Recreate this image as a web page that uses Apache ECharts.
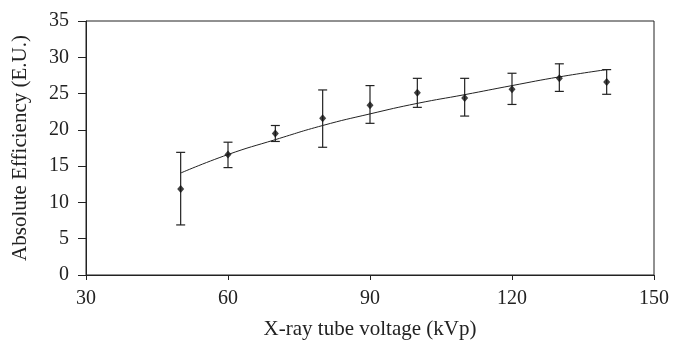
<!DOCTYPE html>
<html>
<head>
<meta charset="utf-8">
<script src="https://cdn.jsdelivr.net/npm/echarts@6/dist/echarts.min.js"></script>
<style>
html, body { margin: 0; padding: 0; background: #fff; }
#main { width: 673px; height: 340px; }
</style>
</head>
<body>
<div id="main"></div>
<script>
// measured points with error bars
var voltages = [50, 60, 70, 80, 90, 100, 110, 120, 130, 140];
var efficiency = [11.85, 16.6, 19.5, 21.6, 23.4, 25.1, 24.4, 25.6, 27.1, 26.6];
var errHigh = [16.9, 18.3, 20.6, 25.5, 26.1, 27.1, 27.1, 27.8, 29.1, 28.3];
var errLow = [6.9, 14.8, 18.4, 17.6, 20.9, 23.1, 21.9, 23.5, 25.3, 24.9];
// fitted curve
var fitValues = [14.05, 16.6, 18.65, 20.6, 22.2, 23.65, 24.85, 26.1, 27.3, 28.3];

var pointData = voltages.map(function (v, i) { return [v, efficiency[i]]; });
var errData = voltages.map(function (v, i) { return [v, errLow[i], errHigh[i]]; });
var fitData = voltages.map(function (v, i) { return [v, fitValues[i]]; });

var myChart = echarts.init(document.getElementById('main'));

var font = 'Liberation Serif';
var ink = '#222';

option = {
    animation: false,
    grid: {
        left: 86,
        right: 19,
        top: 21,
        bottom: 65,
        outerBoundsMode: 'none',
        containLabel: false,
        show: true,
        borderColor: ink,
        borderWidth: 1,
        backgroundColor: 'transparent'
    },
    xAxis: {
        type: 'value',
        min: 30,
        max: 150,
        interval: 30,
        name: 'X-ray tube voltage (kVp)',
        nameLocation: 'middle',
        nameGap: 44,
        nameTextStyle: { fontFamily: font, fontSize: 21, color: ink },
        axisLine: { lineStyle: { color: ink } },
        axisTick: { length: 5, lineStyle: { color: ink } },
        axisLabel: { fontFamily: font, fontSize: 20, color: ink, margin: 14 },
        splitLine: { show: false }
    },
    yAxis: {
        type: 'value',
        min: 0,
        max: 35,
        interval: 5,
        name: 'Absolute Efficiency (E.U.)',
        nameLocation: 'middle',
        nameGap: 55,
        nameTextStyle: { fontFamily: font, fontSize: 21, color: ink },
        axisLine: { show: true, lineStyle: { color: ink } },
        axisTick: { show: true, length: 8, lineStyle: { color: ink } },
        axisLabel: { fontFamily: font, fontSize: 20, color: ink, margin: 17 },
        splitLine: { show: false }
    },
    series: [
        {
            name: 'fit',
            type: 'line',
            data: fitData,
            smooth: true,
            symbol: 'none',
            lineStyle: { color: ink, width: 1 },
            z: 2
        },
        {
            name: 'error',
            type: 'custom',
            data: errData,
            renderItem: function (params, api) {
                var x = api.value(0);
                var lo = api.coord([x, api.value(1)]);
                var hi = api.coord([x, api.value(2)]);
                var cap = 4.5;
                var style = { stroke: ink, lineWidth: 1.2 };
                return {
                    type: 'group',
                    children: [
                        { type: 'line', shape: { x1: lo[0], y1: lo[1], x2: hi[0], y2: hi[1] }, style: style },
                        { type: 'line', shape: { x1: hi[0] - cap, y1: hi[1], x2: hi[0] + cap, y2: hi[1] }, style: style },
                        { type: 'line', shape: { x1: lo[0] - cap, y1: lo[1], x2: lo[0] + cap, y2: lo[1] }, style: style }
                    ]
                };
            },
            z: 3
        },
        {
            name: 'measured',
            type: 'scatter',
            data: pointData,
            symbol: 'diamond',
            symbolSize: [7, 8],
            itemStyle: { color: '#111' },
            z: 4
        }
    ]
};

myChart.setOption(option);
</script>
</body>
</html>
